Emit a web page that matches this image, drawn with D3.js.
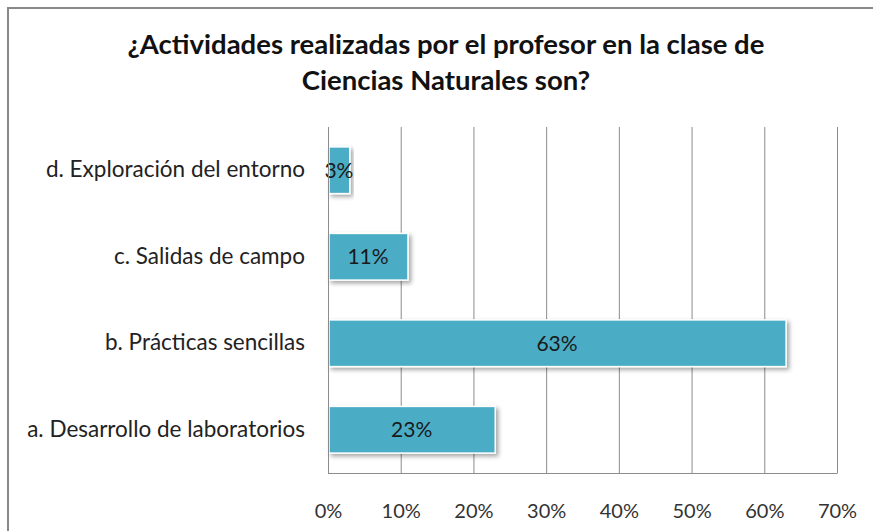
<!DOCTYPE html>
<html><head><meta charset="utf-8">
<script src="https://cdn.jsdelivr.net/npm/d3@7"></script>
<style>body{margin:0;background:#fff}svg{display:block}</style>
</head><body>
<script>
const categories = ["a. Desarrollo de laboratorios","b. Prácticas sencillas","c. Salidas de campo","d. Exploración del entorno"];
const values = [0.23, 0.63, 0.11, 0.03];
const valueLabels = ["23%","63%","11%","3%"];
const tickValues = [0,0.1,0.2,0.3,0.4,0.5,0.6,0.7];
const titleLines = ["¿Actividades realizadas por el profesor en la clase de","Ciencias Naturales son?"];

const W=873,H=531;
const svg=d3.select("body").append("svg").attr("width",W).attr("height",H);
const defs=svg.append("defs");
const f=defs.append("filter").attr("id","sh").attr("x","-10%").attr("y","-20%").attr("width","130%").attr("height","160%");
f.append("feDropShadow").attr("dx",2.5).attr("dy",2.5).attr("stdDeviation",2).attr("flood-color","#000").attr("flood-opacity",0.35);

// chart border
svg.append("path").attr("d","M8,540 L8,8 L880,8").attr("fill","none").attr("stroke","#888").attr("stroke-width",2);

const font="Lato, 'Open Sans', sans-serif";
const x=d3.scaleLinear().domain([0,0.7]).range([328,837]);
const y=d3.scaleBand().domain(categories.slice().reverse()).range([127,473]).paddingInner(0.46).paddingOuter(0.23);

// gridlines
svg.append("g").selectAll("line").data(tickValues).join("line")
 .attr("x1",d=>x(d)+0.5).attr("x2",d=>x(d)+0.5).attr("y1",127).attr("y2",473)
 .attr("stroke","#8c8c8c").attr("stroke-width",1);
svg.append("line").attr("x1",328).attr("x2",837.5).attr("y1",473.5).attr("y2",473.5).attr("stroke","#8c8c8c");

// x axis labels
const xa=svg.append("g").attr("transform","translate(0,473)")
 .call(d3.axisBottom(x).tickValues(tickValues).tickFormat(d3.format(".0%")).tickSize(0).tickPadding(0));
xa.select(".domain").remove();
xa.selectAll("text").attr("font-family",font).attr("font-size",20).attr("fill","#333").attr("dy",null).attr("y",45);

// bars
svg.append("g").selectAll("rect").data(categories).join("rect")
 .attr("x",x(0)+1).attr("y",d=>y(d)).attr("height",y.bandwidth())
 .attr("width",(d,i)=>x(values[i])-x(0)-1)
 .attr("fill","#4bacc6").attr("stroke","#fff").attr("stroke-width",1.5).attr("filter","url(#sh)");

// value labels
svg.append("g").selectAll("text").data(categories).join("text")
 .attr("x",(d,i)=>(x(0)+x(values[i]))/2).attr("y",d=>y(d)+y.bandwidth()/2+7.5)
 .attr("text-anchor","middle").attr("font-family",font).attr("font-size",21).attr("fill","#1a1a1a")
 .text((d,i)=>valueLabels[i]);

// category labels
const ya=svg.append("g").attr("transform","translate(328,0)")
 .call(d3.axisLeft(y).tickSize(0).tickPadding(23));
ya.select(".domain").attr("stroke","#8c8c8c");
ya.selectAll("text").attr("font-family",font).attr("font-size",22.5).attr("fill","#222");

// title
svg.append("g").selectAll("text").data(titleLines).join("text")
 .attr("x",446).attr("y",(d,i)=>54+i*36).attr("text-anchor","middle")
 .attr("font-family",font).attr("font-weight","bold").attr("font-size",27.5).attr("fill","#111")
 .text(d=>d);
</script>
</body></html>
